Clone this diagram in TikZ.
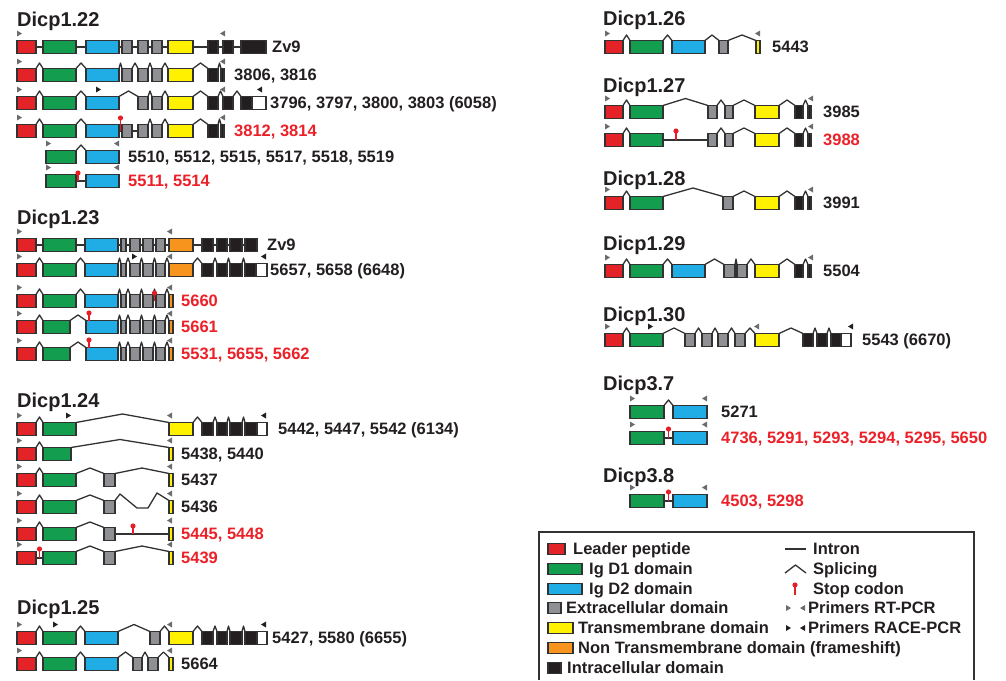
\documentclass[tikz,border=0pt]{standalone}
\usepackage{fontspec}
\setmainfont{Liberation Sans}
\usetikzlibrary{calc}

\definecolor{lpred}{RGB}{228,35,41}
\definecolor{dgreen}{RGB}{18,158,78}
\definecolor{dblue}{RGB}{32,172,228}
\definecolor{xgrey}{RGB}{143,144,147}
\definecolor{tmyel}{RGB}{255,241,0}
\definecolor{ntor}{RGB}{247,148,30}
\definecolor{icblk}{RGB}{35,31,32}
\definecolor{exline}{RGB}{50,50,50}
\definecolor{stopcol}{RGB}{230,30,40}
\definecolor{txtred}{RGB}{236,32,40}
\definecolor{txtblk}{RGB}{35,31,32}

\newcommand{\labfont}{\fontsize{16.5}{18}\selectfont\bfseries}
\newcommand{\genefont}{\fontsize{20}{22}\selectfont\bfseries}

% exon box: [style]{name}{left}{right}{y}
\newcommand{\ex}[5][]{\node[exon,#1,minimum width={#4-#3}] (#2) at ({(#3+#4)/2},#5) {};}
% splicing (peak) and intron (straight) between two exons
\newcommand{\spl}[3][5.5]{\draw[intr] (#2.north east) -- ($(#2.north east)!.5!(#3.north west)+(0,-#1)$) -- (#3.north west);}
\newcommand{\itn}[2]{\draw[intr] (#1.east) -- (#2.west);}
\newcommand{\spls}[2]{\foreach \a/\b in {#2} {\spl{#1\a}{#1\b}}}
\newcommand{\itns}[2]{\foreach \a/\b in {#2} {\itn{#1\a}{#1\b}}}
% stop codon: {x}{base}{top}
\newcommand{\stp}[3]{\draw[stopc] (#1,#2) -- (#1,#3); \fill[stopcol] (#1,#3) circle (2.6);}
% primers, forward and reverse
\newcommand{\pfw}[2][rt]{\fill[#1] (#2) ++(0,-10) -- ++(5,3) -- ++(-5,3) -- cycle;}
\newcommand{\prv}[2][rt]{\fill[#1] (#2) ++(0,-10) -- ++(-5,3) -- ++(5,3) -- cycle;}

\tikzset{
  exon/.style={draw=exline, line width=1.35pt, minimum height=13, inner sep=0pt, outer sep=0pt},
  keybox/.style={minimum height=11},
  lp/.style={fill=lpred}, d1/.style={fill=dgreen}, d2/.style={fill=dblue},
  xc/.style={fill=xgrey}, tm/.style={fill=tmyel}, nt/.style={fill=ntor},
  ic/.style={fill=icblk}, wt/.style={fill=white},
  intr/.style={draw=exline, line width=1.3pt, line join=round},
  stopc/.style={draw=stopcol, line width=1.1pt},
  rt/.style={fill=xgrey!75!black}, race/.style={fill=icblk},
  lab/.style={anchor=west, inner sep=0pt, text height=11.8pt, text depth=0pt, font=\labfont, text=txtblk},
  labr/.style={lab, text=txtred},
  gene/.style={anchor=west, inner sep=0pt, text height=14.3pt, text depth=0pt, font=\genefont, text=txtblk},
}

\begin{document}
\begin{tikzpicture}[x=1pt,y=-1pt]
\useasboundingbox (0,0) rectangle (1006,680);

% ---------- Dicp1.22
\node[gene] (tA) at (17,19) {Dicp1.22};
\ex[lp]{A1lp}{17}{36}{47} \ex[d1]{A1d1}{43}{76}{47} \ex[d2]{A1d2}{86}{119}{47}
\ex[xc]{A1x1}{122}{132}{47} \ex[xc]{A1x2}{138}{148}{47} \ex[xc]{A1x3}{152}{162}{47}
\ex[tm]{A1tm}{168}{193}{47} \ex[ic]{A1c1}{208}{218}{47} \ex[ic]{A1c2}{223}{233}{47}
\ex[ic]{A1c3}{241}{266}{47}
\itns{A1}{lp/d1,d1/d2,d2/x1,x1/x2,x2/x3,x3/tm,tm/c1,c1/c2,c2/c3}
\pfw{A1lp.north west} \prv{[xshift=2]A1c2.north west}
\node[lab] (A1t) at (272,47) {Zv9};

\ex[lp]{A2lp}{17}{36}{75} \ex[d1]{A2d1}{43}{76}{75} \ex[d2]{A2d2}{86}{119}{75}
\ex[xc]{A2x1}{122}{132}{75} \ex[xc]{A2x2}{138}{148}{75} \ex[xc]{A2x3}{152}{162}{75}
\ex[tm]{A2tm}{168}{193}{75} \ex[ic]{A2c1}{208}{218}{75} \ex[ic]{A2c2}{221}{224}{75}
\spls{A2}{lp/d1,d1/d2,d2/x1,x1/x2,x2/x3,x3/tm,tm/c1,c1/c2}
\pfw{A2lp.north west} \prv{[xshift=1]A2c2.north east}
\node[lab] (A2t) at (234,75) {3806, 3816};

\ex[lp]{A3lp}{17}{36}{103} \ex[d1]{A3d1}{43}{76}{103} \ex[d2]{A3d2}{86}{119}{103}
\ex[xc]{A3x2}{138}{148}{103} \ex[xc]{A3x3}{152}{162}{103} \ex[tm]{A3tm}{168}{193}{103}
\ex[ic]{A3c1}{208}{218}{103} \ex[ic]{A3c2}{223}{233}{103} \ex[ic]{A3c3}{241}{252}{103}
\ex[wt]{A3w}{252}{266}{103}
\spls{A3}{lp/d1,d1/d2,d2/x2,x2/x3,x3/tm,tm/c1,c1/c2,c2/c3}
\pfw{A3lp.north west} \pfw[race]{[xshift=10]A3d2.north west}
\prv{[xshift=2]A3c2.north west} \prv[race]{[xshift=-4]A3w.north east}
\node[lab] (A3t) at (270,103) {3796, 3797, 3800, 3803 (6058)};

\ex[lp]{A4lp}{17}{36}{131} \ex[d1]{A4d1}{43}{76}{131} \ex[d2]{A4d2}{86}{119}{131}
\ex[xc]{A4x1}{122}{132}{131} \ex[xc]{A4x2}{138}{148}{131} \ex[xc]{A4x3}{152}{162}{131}
\ex[tm]{A4tm}{168}{193}{131} \ex[ic]{A4c1}{208}{218}{131} \ex[ic]{A4c2}{221}{224}{131}
\itns{A4}{d2/x1,x1/x2}
\spls{A4}{lp/d1,d1/d2,x2/x3,x3/tm,tm/c1,c1/c2}
\stp{120.5}{131}{118}
\pfw{A4lp.north west} \prv{[xshift=1]A4c2.north east}
\node[labr] (A4t) at (234,131) {3812, 3814};

\ex[d1]{A5d1}{46}{76}{157} \ex[d2]{A5d2}{86}{119}{157}
\spl{A5d1}{A5d2}
\pfw{A5d1.north west} \prv{A5d2.north east}
\node[lab] (A5t) at (128,157) {5510, 5512, 5515, 5517, 5518, 5519};

\ex[d1]{A6d1}{46}{76}{181} \ex[d2]{A6d2}{86}{119}{181}
\itn{A6d1}{A6d2} \stp{78}{181}{173}
\pfw{A6d1.north west} \prv{A6d2.north east}
\node[labr] (A6t) at (128,181) {5511, 5514};

% ---------- Dicp1.23
\node[gene] (tB) at (17,217) {Dicp1.23};
\ex[lp]{B1lp}{17}{36}{245} \ex[d1]{B1d1}{43}{76}{245} \ex[d2]{B1d2}{85}{118}{245}
\ex[xc]{B1x0}{121}{126}{245} \ex[xc]{B1x1}{130}{140}{245} \ex[xc]{B1x2}{143}{153}{245}
\ex[xc]{B1x3}{156}{165}{245} \ex[nt]{B1nt}{169}{193}{245}
\ex[ic]{B1c1}{202}{213}{245} \ex[ic]{B1c2}{217}{227}{245} \ex[ic]{B1c3}{230}{242}{245}
\ex[ic]{B1c4}{245}{257}{245}
\itns{B1}{lp/d1,d1/d2,d2/x0,x0/x1,x1/x2,x2/x3,x3/nt,nt/c1,c1/c2,c2/c3,c3/c4}
\pfw{B1lp.north west} \prv{[xshift=3]B1nt.north west}
\node[lab] (B1t) at (267,245) {Zv9};

\ex[lp]{B2lp}{17}{36}{270} \ex[d1]{B2d1}{43}{76}{270} \ex[d2]{B2d2}{85}{118}{270}
\ex[xc]{B2x0}{121}{126}{270} \ex[xc]{B2x1}{130}{140}{270} \ex[xc]{B2x2}{143}{153}{270}
\ex[xc]{B2x3}{156}{165}{270} \ex[nt]{B2nt}{169}{193}{270}
\ex[ic]{B2c1}{202}{213}{270} \ex[ic]{B2c2}{217}{227}{270} \ex[ic]{B2c3}{230}{242}{270}
\ex[ic]{B2c4}{245}{256}{270} \ex[wt]{B2w}{256}{267}{270}
\spls{B2}{lp/d1,d1/d2,d2/x0,x0/x1,x1/x2,x2/x3,x3/nt,nt/c1,c1/c2,c2/c3,c3/c4}
\pfw{B2lp.north west} \pfw[race]{[xshift=2]B2x1.north west}
\prv{[xshift=3]B2nt.north west} \prv[race]{[xshift=-1]B2w.north east}
\node[lab] (B2t) at (270,270) {5657, 5658 (6648)};

\ex[lp]{B3lp}{17}{36}{301} \ex[d1]{B3d1}{43}{76}{301} \ex[d2]{B3d2}{85}{118}{301}
\ex[xc]{B3x0}{121}{126}{301} \ex[xc]{B3x1}{130}{140}{301} \ex[xc]{B3x2}{143}{153}{301}
\ex[xc]{B3x3}{156}{165}{301} \ex[nt]{B3nt}{169}{173}{301}
\spls{B3}{lp/d1,d1/d2,d2/x0,x0/x1,x1/x2,x2/x3,x3/nt}
\stp{154.5}{301}{293}
\pfw{B3lp.north west} \prv{[xshift=3]B3nt.north west}
\node[labr] (B3t) at (181,301) {5660};

\ex[lp]{B4lp}{17}{36}{327} \ex[d1]{B4d1}{43}{70}{327} \ex[d2]{B4d2}{86}{118}{327}
\ex[xc]{B4x0}{121}{126}{327} \ex[xc]{B4x1}{130}{140}{327} \ex[xc]{B4x2}{143}{153}{327}
\ex[xc]{B4x3}{156}{165}{327} \ex[nt]{B4nt}{169}{173}{327}
\spls{B4}{lp/d1,d1/d2,d2/x0,x0/x1,x1/x2,x2/x3,x3/nt}
\stp{89}{320.5}{313}
\pfw{B4lp.north west} \prv{[xshift=3]B4nt.north west}
\node[labr] (B4t) at (181,327) {5661};

\ex[lp]{B5lp}{17}{36}{354} \ex[d1]{B5d1}{43}{70}{354} \ex[d2]{B5d2}{86}{118}{354}
\ex[xc]{B5x0}{121}{126}{354} \ex[xc]{B5x1}{130}{140}{354} \ex[xc]{B5x2}{143}{153}{354}
\ex[xc]{B5x3}{156}{165}{354} \ex[nt]{B5nt}{169}{173}{354}
\spls{B5}{lp/d1,d1/d2,d2/x0,x0/x1,x1/x2,x2/x3,x3/nt}
\stp{89}{347.5}{340}
\pfw{B5lp.north west} \prv{[xshift=3]B5nt.north west}
\node[labr] (B5t) at (181,354) {5531, 5655, 5662};

% ---------- Dicp1.24
\node[gene] (tC) at (17,400) {Dicp1.24};
\ex[lp]{C1lp}{17}{36}{429} \ex[d1]{C1d1}{43}{76}{429} \ex[tm]{C1tm}{169}{193}{429}
\ex[ic]{C1c1}{202}{213}{429} \ex[ic]{C1c2}{217}{227}{429} \ex[ic]{C1c3}{230}{242}{429}
\ex[ic]{C1c4}{245}{257}{429} \ex[wt]{C1w}{257}{267}{429}
\spl{C1lp}{C1d1} \spl[8.5]{C1d1}{C1tm}
\spls{C1}{tm/c1,c1/c2,c2/c3,c3/c4}
\pfw{C1lp.north west} \pfw[race]{[xshift=-10]C1d1.north east}
\prv{[xshift=3]C1tm.north west} \prv[race]{[xshift=-1]C1w.north east}
\node[lab] (C1t) at (278,429) {5442, 5447, 5542 (6134)};

\ex[lp]{C2lp}{17}{36}{454} \ex[d1]{C2d1}{43}{71}{454} \ex[tm]{C2tm}{169}{173}{454}
\spl{C2lp}{C2d1} \spl[8]{C2d1}{C2tm}
\pfw{C2lp.north west} \prv{[xshift=3]C2tm.north west}
\node[lab] (C2t) at (181,454) {5438, 5440};

\ex[lp]{C3lp}{17}{36}{480} \ex[d1]{C3d1}{43}{76}{480} \ex[xc]{C3x}{104}{115}{480}
\ex[tm]{C3tm}{169}{173}{480}
\spls{C3}{lp/d1,d1/x,x/tm}
\pfw{C3lp.north west} \prv{[xshift=3]C3tm.north west}
\node[lab] (C3t) at (181,480) {5437};

\ex[lp]{C4lp}{17}{36}{507} \ex[d1]{C4d1}{43}{76}{507} \ex[xc]{C4x}{104}{115}{507}
\ex[tm]{C4tm}{169}{173}{507}
\spls{C4}{lp/d1,d1/x}
\draw[intr] (C4x.north east) -- (120,494) -- (137,508) -- (148,508) -- (157,493) -- (C4tm.north west);
\pfw{C4lp.north west} \prv{[xshift=3]C4tm.north west}
\node[lab] (C4t) at (181,507) {5436};

\ex[lp]{C5lp}{17}{36}{534} \ex[d1]{C5d1}{43}{76}{534} \ex[xc]{C5x}{104}{115}{534}
\ex[tm]{C5tm}{169}{173}{534}
\spls{C5}{lp/d1,d1/x} \itn{C5x}{C5tm} \stp{133}{534}{526}
\pfw{C5lp.north west} \prv{[xshift=3]C5tm.north west}
\node[labr] (C5t) at (181,534) {5445, 5448};

\ex[lp]{C6lp}{17}{36}{558} \ex[d1]{C6d1}{43}{76}{558} \ex[xc]{C6x}{104}{115}{558}
\ex[tm]{C6tm}{169}{173}{558}
\itn{C6lp}{C6d1} \stp{39.5}{558}{549}
\spls{C6}{d1/x,x/tm}
\pfw{C6lp.north west} \prv{[xshift=3]C6tm.north west}
\node[labr] (C6t) at (181,558) {5439};

% ---------- Dicp1.25
\node[gene] (tD) at (17,607) {Dicp1.25};
\ex[lp]{D1lp}{17}{36}{638} \ex[d1]{D1d1}{43}{76}{638} \ex[d2]{D1d2}{85}{118}{638}
\ex[xc]{D1x}{150}{160}{638} \ex[tm]{D1tm}{169}{193}{638}
\ex[ic]{D1c1}{202}{213}{638} \ex[ic]{D1c2}{217}{227}{638} \ex[ic]{D1c3}{230}{242}{638}
\ex[ic]{D1c4}{245}{257}{638} \ex[wt]{D1w}{257}{267}{638}
\spls{D1}{lp/d1,d1/d2,x/tm,tm/c1,c1/c2,c2/c3,c3/c4}
\spl[7]{D1d2}{D1x}
\pfw{D1lp.north west} \pfw[race]{[xshift=10]D1d1.north west}
\prv{[xshift=3]D1tm.north west} \prv[race]{[xshift=-1]D1w.north east}
\node[lab] (D1t) at (272,638) {5427, 5580 (6655)};

\ex[lp]{D2lp}{17}{36}{664} \ex[d1]{D2d1}{43}{76}{664} \ex[d2]{D2d2}{85}{118}{664}
\ex[xc]{D2x1}{133}{142}{664} \ex[xc]{D2x2}{148}{158}{664} \ex[tm]{D2tm}{169}{173}{664}
\spls{D2}{lp/d1,d1/d2,d2/x1,x1/x2,x2/tm}
\pfw{D2lp.north west} \prv{[xshift=3]D2tm.north west}
\node[lab] (D2t) at (181,664) {5664};

% ---------- Dicp1.26
\node[gene] (tE) at (603,18) {Dicp1.26};
\ex[lp]{E1lp}{605}{623}{47} \ex[d1]{E1d1}{630}{663}{47} \ex[d2]{E1d2}{672}{705}{47}
\ex[xc]{E1x}{719}{728}{47} \ex[tm]{E1tm}{756}{760}{47}
\spls{E1}{lp/d1,d1/d2,d2/x,x/tm}
\pfw{E1lp.north west} \prv{E1tm.north east}
\node[lab] (E1t) at (772,47) {5443};

% ---------- Dicp1.27
\node[gene] (tF) at (603,85) {Dicp1.27};
\ex[lp]{F1lp}{605}{623}{112} \ex[d1]{F1d1}{630}{663}{112} \ex[xc]{F1x1}{708}{717}{112}
\ex[xc]{F1x2}{725}{733}{112} \ex[tm]{F1tm}{755}{779}{112}
\ex[ic]{F1c1}{795}{803}{112} \ex[ic]{F1c2}{808}{811}{112}
\spl{F1lp}{F1d1} \spl[7]{F1d1}{F1x1}
\spls{F1}{x1/x2,x2/tm,tm/c1,c1/c2}
\pfw{F1lp.north west} \prv{[xshift=2]F1c2.north east}
\node[lab] (F1t) at (823,112) {3985};

\ex[lp]{F2lp}{605}{623}{140} \ex[d1]{F2d1}{630}{663}{140} \ex[xc]{F2x1}{708}{717}{140}
\ex[xc]{F2x2}{725}{733}{140} \ex[tm]{F2tm}{755}{779}{140}
\ex[ic]{F2c1}{795}{803}{140} \ex[ic]{F2c2}{808}{811}{140}
\spl{F2lp}{F2d1} \itn{F2d1}{F2x1} \stp{676}{140}{131}
\spls{F2}{x1/x2,x2/tm,tm/c1,c1/c2}
\pfw{F2lp.north west} \prv{[xshift=2]F2c2.north east}
\node[labr] (F2t) at (823,140) {3988};

% ---------- Dicp1.28
\node[gene] (tG) at (603,178) {Dicp1.28};
\ex[lp]{G1lp}{605}{623}{203} \ex[d1]{G1d1}{630}{663}{203} \ex[xc]{G1x}{723}{733}{203}
\ex[tm]{G1tm}{755}{779}{203} \ex[ic]{G1c1}{795}{803}{203} \ex[ic]{G1c2}{808}{811}{203}
\spl{G1lp}{G1d1} \spl[8.5]{G1d1}{G1x}
\spls{G1}{x/tm,tm/c1,c1/c2}
\pfw{G1lp.north west} \prv{[xshift=2]G1c2.north east}
\node[lab] (G1t) at (823,203) {3991};

% ---------- Dicp1.29
\node[gene] (tH) at (603,243) {Dicp1.29};
\ex[lp]{H1lp}{605}{623}{271} \ex[d1]{H1d1}{630}{663}{271} \ex[d2]{H1d2}{672}{705}{271}
\ex[xc]{H1x1}{724}{735}{271} \ex[xc]{H1x2}{737}{747}{271} \ex[tm]{H1tm}{755}{779}{271}
\ex[ic]{H1c1}{795}{803}{271} \ex[ic]{H1c2}{808}{811}{271}
\spls{H1}{lp/d1,d1/d2,d2/x1,x1/x2,x2/tm,tm/c1,c1/c2}
\pfw{H1lp.north west} \prv{[xshift=2]H1c2.north east}
\node[lab] (H1t) at (823,271) {5504};

% ---------- Dicp1.30
\node[gene] (tI) at (603,314) {Dicp1.30};
\ex[lp]{I1lp}{605}{623}{340} \ex[d1]{I1d1}{630}{663}{340}
\ex[xc]{I1x1}{685}{695}{340} \ex[xc]{I1x2}{702}{712}{340} \ex[xc]{I1x3}{718}{728}{340}
\ex[xc]{I1x4}{735}{745}{340} \ex[tm]{I1tm}{755}{779}{340}
\ex[ic]{I1c1}{803}{813}{340} \ex[ic]{I1c2}{817}{827}{340} \ex[ic]{I1c3}{831}{841}{340}
\ex[wt]{I1w}{841}{851}{340}
\spls{I1}{lp/d1,d1/x1,x1/x2,x2/x3,x3/x4,x4/tm,tm/c1,c1/c2,c2/c3}
\pfw{I1lp.north west} \pfw[race]{[xshift=18]I1d1.north west}
\prv{[xshift=4]I1tm.north west} \prv[race]{[xshift=2]I1w.north east}
\node[lab] (I1t) at (862,340) {5543 (6670)};

% ---------- Dicp3.7
\node[gene] (tJ) at (603,383) {Dicp3.7};
\ex[d1]{J1d1}{630}{664}{412} \ex[d2]{J1d2}{673}{707}{412}
\spl{J1d1}{J1d2}
\pfw{J1d1.north west} \prv{J1d2.north east}
\node[lab] (J1t) at (721,412) {5271};

\ex[d1]{J2d1}{630}{664}{438} \ex[d2]{J2d2}{673}{707}{438}
\itn{J2d1}{J2d2} \stp{668.5}{438}{429}
\pfw{J2d1.north west} \prv{J2d2.north east}
\node[labr] (J2t) at (721,438) {4736, 5291, 5293, 5294, 5295, 5650};

% ---------- Dicp3.8
\node[gene] (tK) at (603,475) {Dicp3.8};
\ex[d1]{K1d1}{630}{664}{501} \ex[d2]{K1d2}{673}{707}{501}
\itn{K1d1}{K1d2} \stp{668.5}{501}{492}
\pfw{K1d1.north west} \prv{K1d2.north east}
\node[labr] (K1t) at (721,501) {4503, 5298};

% ---------- legend
\draw[exline, line width=1.2pt] (539,680) -- (539,532) -- (974,532) -- (974,680);
\ex[lp,keybox]{Llp}{548}{565}{549}
\ex[d1,keybox]{Ld1}{548}{582}{569}
\ex[d2,keybox]{Ld2}{548}{582}{589}
\ex[xc,keybox]{Lxc}{548}{561}{608}
\ex[tm,keybox]{Ltm}{548}{573}{628}
\ex[nt,keybox]{Lnt}{548}{573}{648}
\ex[ic,keybox]{Lic}{548}{561}{668}
\node[lab] (Llpt) at (573,549) {Leader peptide};
\node[lab] (Ld1t) at (589,569) {Ig D1 domain};
\node[lab] (Ld2t) at (589,589) {Ig D2 domain};
\node[lab] (Lxct) at (566,608) {Extracellular domain};
\node[lab] (Ltmt) at (578,628) {Transmembrane domain};
\node[lab] (Lntt) at (578,648) {Non Transmembrane domain (frameshift)};
\node[lab] (Lict) at (567,668) {Intracellular domain};

\coordinate (ki1) at (785,549); \coordinate (ki2) at (806,549);
\draw[intr] (ki1) -- (ki2);
\coordinate (ks1) at (785,573); \coordinate (ks2) at (806,573);
\draw[intr] (ks1) -- ($(ks1)!.5!(ks2)+(0,-8)$) -- (ks2);
\stp{795}{595}{585}
\pfw{786,615} \prv{805,615}
\pfw[race]{786,635} \prv[race]{805,635}
\node[lab] (Lin) at (813,549) {Intron};
\node[lab] (Lsp) at (813,569) {Splicing};
\node[lab] (Lst) at (813,589) {Stop codon};
\node[lab] (Lrt) at (808,608) {Primers RT-PCR};
\node[lab] (Lrc) at (808,628) {Primers RACE-PCR};
\end{tikzpicture}
\end{document}
